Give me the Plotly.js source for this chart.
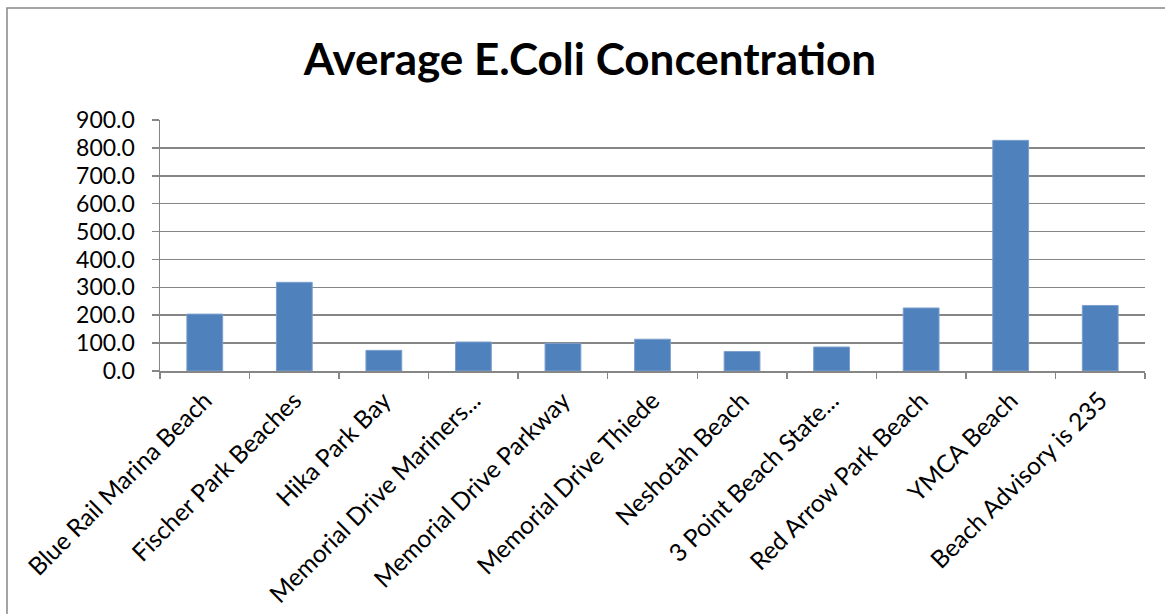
<!DOCTYPE html>
<html>
<head>
<meta charset="utf-8">
<script src="https://cdn.plot.ly/plotly-3.0.1.min.js"></script>
<style>
html,body{margin:0;padding:0;background:#fff;}
#chart{width:1165px;height:614px;}
</style>
</head>
<body>
<div id="chart"></div>
<script>
const categories = [
  "Blue Rail Marina Beach",
  "Fischer Park Beaches",
  "Hika Park Bay",
  "Memorial Drive Mariners...",
  "Memorial Drive Parkway",
  "Memorial Drive Thiede",
  "Neshotah Beach",
  "3 Point Beach State...",
  "Red Arrow Park Beach",
  "YMCA Beach",
  "Beach Advisory is 235"
];
const averageEColi = [204, 318, 74, 104, 99, 114, 70, 86, 226, 827, 235];
const yTickValues = [0, 100, 200, 300, 400, 500, 600, 700, 800, 900];

const W = 1165, H = 614;
const m = {l: 160, r: 20, t: 120, b: 243};
const pw = W - m.l - m.r, ph = H - m.t - m.b;
const px2x = p => (p - m.l) / pw;
const py2y = p => (H - m.b - p) / ph;

const trace = {
  type: 'bar',
  x: categories,
  y: averageEColi,
  marker: {color: '#4F81BD', line: {color: '#7DA0CC', width: 1}},
  hoverinfo: 'x+y'
};

const layout = {
  width: W, height: H,
  margin: m,
  paper_bgcolor: '#fff',
  plot_bgcolor: '#fff',
  showlegend: false,
  bargap: 0.6,
  font: {family: 'Lato, "Open Sans", sans-serif', color: '#000', size: 22},
  title: {
    text: '<b>Average E.Coli Concentration</b>',
    font: {family: 'Lato, "Open Sans", sans-serif', size: 44, color: '#000'},
    xref: 'container', yref: 'container',
    x: 590 / W, y: 1 - 60 / H,
    xanchor: 'center', yanchor: 'middle'
  },
  xaxis: {
    type: 'category',
    tickangle: -45,
    tickson: 'boundaries',
    ticks: 'outside', ticklen: 6, tickcolor: '#868686', tickwidth: 1.5,
    ticklabelstandoff: 4,
    showline: true, linecolor: '#868686', linewidth: 1.5,
    showgrid: false,
    tickfont: {size: 24.5, color: '#000'},
    automargin: false
  },
  yaxis: {
    range: [0, 900],
    tickvals: yTickValues,
    tickformat: '.1f',
    ticks: 'outside', ticklen: 7, tickcolor: '#868686', tickwidth: 1.5,
    ticklabelstandoff: 12,
    showline: true, linecolor: '#868686', linewidth: 1.5,
    showgrid: true, gridcolor: '#868686', gridwidth: 1.5,
    zeroline: false,
    tickfont: {size: 23, color: '#000'},
    automargin: false
  },
  shapes: [{
    type: 'rect', xref: 'paper', yref: 'paper',
    x0: px2x(7), x1: px2x(1175), y0: py2y(625), y1: py2y(8),
    line: {color: '#868686', width: 1.5}, fillcolor: 'rgba(0,0,0,0)', layer: 'below'
  }]
};

Plotly.newPlot('chart', [trace], layout, {displayModeBar: false, staticPlot: true});
</script>
</body>
</html>
